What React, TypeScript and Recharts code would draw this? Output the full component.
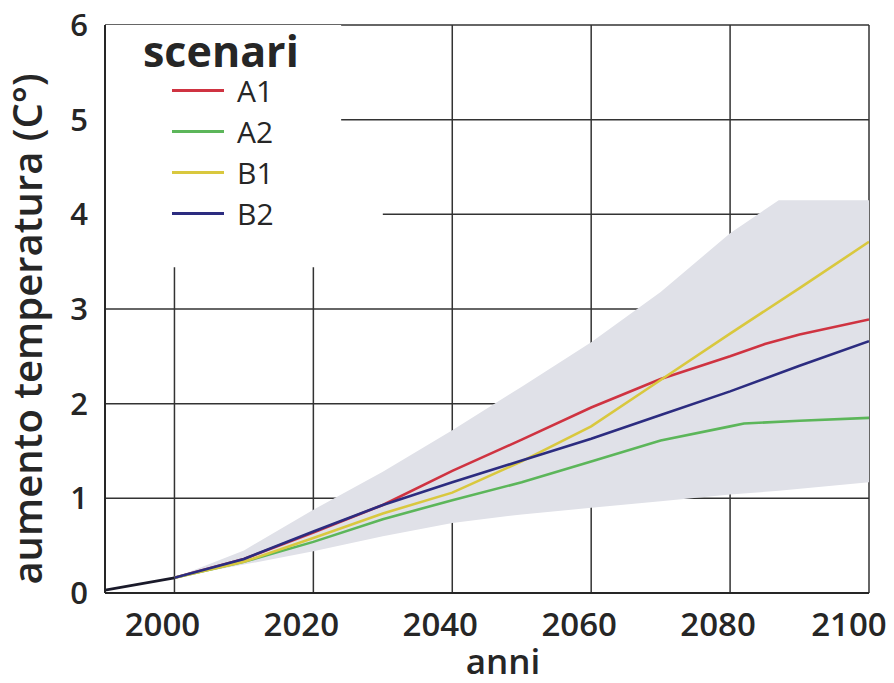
import React from 'react';
import {
  ComposedChart,
  Line,
  Area,
  XAxis,
  YAxis,
  CartesianGrid,
  ReferenceArea,
} from 'recharts';

const FONT = '"Open Sans", "Noto Sans", sans-serif';
const INK = '#262626';

// scenari IPCC: aumento di temperatura (°C)
const yearsObserved = [1990, 2000];
const valuesObserved = [0.03, 0.16];

const yearsA1 = [2000, 2010, 2020, 2030, 2040, 2050, 2060, 2070, 2080, 2085, 2090, 2100];
const valuesA1 = [0.16, 0.36, 0.64, 0.93, 1.29, 1.62, 1.96, 2.26, 2.5, 2.63, 2.73, 2.89];

const yearsA2 = [2000, 2010, 2020, 2030, 2040, 2050, 2060, 2070, 2080, 2082, 2090, 2100];
const valuesA2 = [0.16, 0.33, 0.54, 0.78, 0.98, 1.17, 1.39, 1.61, 1.76, 1.79, 1.82, 1.85];

const yearsB1 = [2000, 2010, 2020, 2030, 2040, 2050, 2060, 2070, 2080, 2090, 2100];
const valuesB1 = [0.16, 0.33, 0.58, 0.84, 1.06, 1.39, 1.76, 2.25, 2.74, 3.22, 3.71];

const yearsB2 = [2000, 2010, 2020, 2030, 2040, 2050, 2060, 2070, 2080, 2090, 2100];
const valuesB2 = [0.16, 0.36, 0.65, 0.93, 1.17, 1.4, 1.63, 1.88, 2.13, 2.4, 2.66];

// fascia di incertezza
const bandYears = [2000, 2010, 2020, 2030, 2040, 2050, 2060, 2070, 2080, 2087, 2100];
const bandLow = [0.16, 0.3, 0.44, 0.6, 0.74, 0.83, 0.9, 0.97, 1.04, 1.08, 1.17];
const bandHigh = [0.16, 0.45, 0.88, 1.28, 1.72, 2.18, 2.65, 3.18, 3.8, 4.15, 4.15];

const xTicks = [2000, 2020, 2040, 2060, 2080, 2100];
const yTicks = [0, 1, 2, 3, 4, 5, 6];

const toPoints = (years: number[], values: number[]) =>
  years.map((year, i) => ({ year, value: values[i] }));

const series = [
  { name: 'A1', color: '#cf3341', data: toPoints(yearsA1, valuesA1) },
  { name: 'A2', color: '#5cb65a', data: toPoints(yearsA2, valuesA2) },
  { name: 'B1', color: '#d9c83e', data: toPoints(yearsB1, valuesB1) },
  { name: 'B2', color: '#2c2c80', data: toPoints(yearsB2, valuesB2) },
];

const bandData = bandYears.map((year, i) => ({ year, range: [bandLow[i], bandHigh[i]] }));
const observed = toPoints(yearsObserved, valuesObserved);

const YTitle = (props: any) => {
  const { viewBox } = props;
  const cx = 42;
  const cy = viewBox.y + viewBox.height / 2 + 20;
  return (
    <text
      x={cx}
      y={cy}
      transform={`rotate(-90, ${cx}, ${cy})`}
      textAnchor="middle"
      fill={INK}
      style={{ fontFamily: FONT, fontSize: 40, fontWeight: 600 }}
    >
      aumento temperatura (C°)
    </text>
  );
};

const XTitle = (props: any) => {
  const { viewBox } = props;
  return (
    <text
      x={viewBox.x + viewBox.width / 2 + 16}
      y={674}
      textAnchor="middle"
      fill={INK}
      style={{ fontFamily: FONT, fontSize: 35, fontWeight: 600 }}
    >
      anni
    </text>
  );
};

const ScenariLegend = () => (
  <div
    style={{
      position: 'absolute',
      left: 143,
      top: 32,
      fontFamily: FONT,
      color: INK,
      pointerEvents: 'none',
    }}
  >
    <div style={{ fontSize: 43, fontWeight: 700, lineHeight: '38px', height: 38 }}>scenari</div>
    {series.map((s) => (
      <div
        key={s.name}
        style={{ display: 'flex', alignItems: 'center', height: 41, paddingLeft: 29 }}
      >
        <span style={{ width: 52, height: 3, background: s.color, display: 'inline-block' }} />
        <span style={{ fontSize: 30, fontWeight: 500, marginLeft: 13, lineHeight: '36px' }}>
          {s.name}
        </span>
      </div>
    ))}
  </div>
);

export default function App() {
  const axisLine = { stroke: INK, strokeWidth: 2 };
  return (
    <div
      style={{
        position: 'absolute',
        left: 0,
        top: 0,
        width: 894,
        height: 683,
        background: '#fff',
      }}
    >
      <ComposedChart
        width={894}
        height={683}
        margin={{ top: 25, right: 25, bottom: 30, left: 0 }}
      >
        <CartesianGrid
          xAxisId="bottom"
          yAxisId="left"
          stroke="#333"
          strokeWidth={1.5}
        />
        <ReferenceArea
          xAxisId="bottom"
          yAxisId="left"
          x1={1990}
          x2={2024}
          y1={4.5}
          y2={6}
          fill="#fff"
          fillOpacity={1}
          stroke="none"
        />
        <ReferenceArea
          xAxisId="bottom"
          yAxisId="left"
          x1={1990}
          x2={2030}
          y1={3.44}
          y2={4.5}
          fill="#fff"
          fillOpacity={1}
          stroke="none"
        />
        <Area
          xAxisId="bottom"
          yAxisId="left"
          data={bandData}
          dataKey="range"
          type="linear"
          fill="#e0e1e8"
          fillOpacity={1}
          stroke="none"
          isAnimationActive={false}
        />
        <XAxis
          xAxisId="bottom"
          dataKey="year"
          type="number"
          domain={[1990, 2100]}
          ticks={xTicks}
          allowDataOverflow
          height={60}
          tickSize={0}
          tickMargin={20}
          tickLine={false}
          axisLine={axisLine}
          tick={{ fill: INK, fontSize: 33, fontWeight: 600, fontFamily: FONT, dx: -12 }}
          label={<XTitle />}
        />
        <XAxis
          xAxisId="top"
          orientation="top"
          dataKey="year"
          type="number"
          domain={[1990, 2100]}
          height={0}
          tick={false}
          tickLine={false}
          axisLine={axisLine}
        />
        <YAxis
          yAxisId="left"
          type="number"
          domain={[0, 6]}
          ticks={yTicks}
          width={105}
          tickSize={0}
          tickMargin={17}
          tickLine={false}
          axisLine={axisLine}
          tick={{ fill: INK, fontSize: 31, fontWeight: 600, fontFamily: FONT }}
          label={<YTitle />}
        />
        <YAxis
          yAxisId="right"
          orientation="right"
          type="number"
          domain={[0, 6]}
          ticks={yTicks}
          width={0}
          tickSize={6}
          tickLine={{ stroke: INK, strokeWidth: 1.4 }}
          tickFormatter={() => ''}
          axisLine={axisLine}
        />
        {series.map((s) => (
          <Line
            key={s.name}
            xAxisId="bottom"
            yAxisId="left"
            data={s.data}
            dataKey="value"
            name={s.name}
            type="linear"
            stroke={s.color}
            strokeWidth={2.6}
            dot={false}
            isAnimationActive={false}
          />
        ))}
        <Line
          xAxisId="bottom"
          yAxisId="left"
          data={observed}
          dataKey="value"
          name="osservato"
          type="linear"
          stroke="#1a1a2a"
          strokeWidth={2.6}
          dot={false}
          isAnimationActive={false}
        />
      </ComposedChart>
      <ScenariLegend />
    </div>
  );
}
